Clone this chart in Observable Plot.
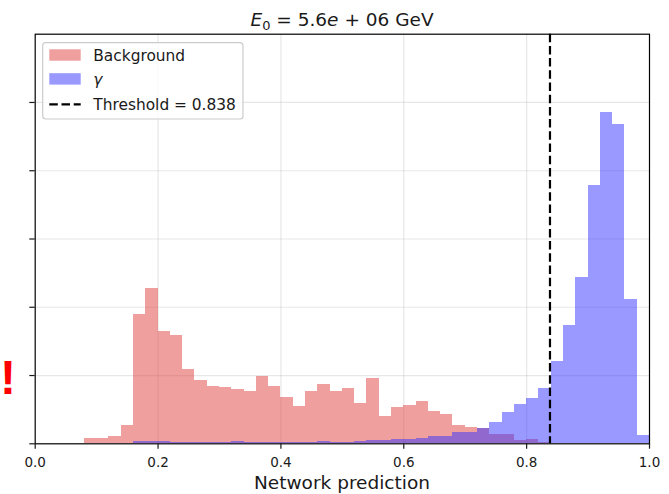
<!DOCTYPE html>
<html><head><meta charset="utf-8">
<script src="https://cdn.jsdelivr.net/npm/d3@7"></script>
<script src="https://cdn.jsdelivr.net/npm/@observablehq/plot@0.6"></script>
<style>body{margin:0;background:#fff} svg{font-family:"DejaVu Sans",sans-serif}</style>
</head><body><div id="chart"></div>
<script>
// ---- data ----
const binStart = 0.0;
const binWidth = 0.02;
const background = [
  0, 0, 0, 0, 0.08, 0.08, 0.10, 0.273, 1.888, 2.278,
  1.639, 1.585, 1.083, 0.932, 0.834, 0.820, 0.790, 0.766, 0.980, 0.834,
  0.683, 0.541, 0.766, 0.863, 0.766, 0.815, 0.585, 0.961, 0.395, 0.537,
  0.566, 0.615, 0.468, 0.434, 0.273, 0.244, 0.22, 0.14, 0.13, 0.045,
  0.07, 0.025, 0.005, 0, 0, 0, 0, 0, 0, 0
];
const gamma = [
  0, 0, 0, 0, 0, 0, 0, 0.01, 0.03, 0.03,
  0.03, 0.015, 0.012, 0.012, 0.012, 0.015, 0.03, 0.015, 0.012, 0.012,
  0.012, 0.015, 0.015, 0.03, 0.015, 0.015, 0.03, 0.045, 0.05, 0.063,
  0.063, 0.083, 0.10, 0.10, 0.16, 0.16, 0.22, 0.307, 0.454, 0.571,
  0.668, 0.805, 1.21, 1.73, 2.44, 3.79, 4.86, 4.67, 2.12, 0.12
];
const threshold = 0.838;
const xTicks = [0, 0.2, 0.4, 0.6, 0.8, 1.0];
const yTicks = [0, 1, 2, 3, 4, 5];
const seriesNames = ["Background", "γ"];
const thresholdLabel = "Threshold = 0.838";
const xLabel = "Network prediction";

const rows = background.map((v, i) => ({
  x1: binStart + i * binWidth,
  x2: binStart + (i + 1) * binWidth,
  bg: v,
  g: gamma[i]
}));

const RED = "#e0403c", BLUE = "#3333ff";

const svg = Plot.plot({
  width: 669, height: 494,
  marginLeft: 34.7, marginRight: 20, marginTop: 33.7, marginBottom: 50.7,
  x: {domain: [0, 1]},
  y: {domain: [0, 6]},
  style: {fontFamily: "DejaVu Sans", fontSize: "13.5px", color: "#1a1a1a", background: "white"},
  marks: [
    Plot.gridX(xTicks.slice(1, -1), {stroke: "#b0b0b0", strokeOpacity: 0.3, strokeWidth: 1.2}),
    Plot.gridY(yTicks.slice(1), {stroke: "#b0b0b0", strokeOpacity: 0.3, strokeWidth: 1.2}),
    Plot.rectY(rows, {x1: "x1", x2: "x2", y: "bg", fill: RED, fillOpacity: 0.5, shapeRendering: "crispEdges"}),
    Plot.rectY(rows, {x1: "x1", x2: "x2", y: "g", fill: BLUE, fillOpacity: 0.5, shapeRendering: "crispEdges"}),
    Plot.ruleX([threshold], {stroke: "black", strokeWidth: 2.2, strokeDasharray: "8.5,3.7"}),
    Plot.frame({stroke: "black", strokeWidth: 1.2}),
    Plot.axisX({ticks: xTicks, tickFormat: d3.format(".1f"), tickSize: 5.4, tickPadding: 8, strokeWidth: 1.2, label: null}),
    Plot.axisY({ticks: yTicks, tickFormat: () => "", tickSize: 5.4, strokeWidth: 1.2, label: null})
  ]
});

const s = d3.select(svg);
// title
const t = s.append("text").attr("x", 342).attr("y", 26).attr("text-anchor", "middle")
  .attr("font-size", 18.5).attr("fill", "#1a1a1a");
t.append("tspan").attr("font-style", "italic").text("E");
t.append("tspan").attr("font-size", 13).attr("dy", 4).text("0");
t.append("tspan").attr("dy", -4).text(" = 5.6");
t.append("tspan").attr("font-style", "italic").text("e");
t.append("tspan").text(" + 06 GeV");

// x label
s.append("text").attr("x", 342).attr("y", 489).attr("text-anchor", "middle")
  .attr("font-size", 18.5).attr("fill", "#1a1a1a").text(xLabel);

// legend
const lg = s.append("g");
lg.append("rect").attr("x", 42.7).attr("y", 42.7).attr("width", 200.3).attr("height", 76.3)
  .attr("rx", 3).attr("fill", "white").attr("fill-opacity", 0.8)
  .attr("stroke", "#cccccc").attr("stroke-width", 1.2);
lg.append("rect").attr("x", 49.3).attr("y", 49.3).attr("width", 31.4).attr("height", 11.4)
  .attr("fill", RED).attr("fill-opacity", 0.5);
lg.append("rect").attr("x", 49.3).attr("y", 73.2).attr("width", 31.4).attr("height", 11.4)
  .attr("fill", BLUE).attr("fill-opacity", 0.5);
lg.append("line").attr("x1", 49.3).attr("x2", 80.7).attr("y1", 104.3).attr("y2", 104.3)
  .attr("stroke", "black").attr("stroke-width", 2.2).attr("stroke-dasharray", "8.5,3.7");
const lt = [[seriesNames[0], 55, false], [seriesNames[1], 79, true], [thresholdLabel, 104.3, false]];
lt.forEach(([txt, cy, it]) => {
  lg.append("text").attr("x", 93.3).attr("y", cy).attr("dy", "0.36em")
    .attr("text-anchor", "start")
    .attr("font-size", 15.4).attr("fill", "#1a1a1a")
    .attr("font-style", it ? "italic" : "normal").text(txt);
});

// red mark at left
s.append("text").attr("x", 0).attr("y", 394).attr("text-anchor", "start")
  .attr("font-family", "Liberation Sans").attr("font-size", 48)
  .attr("font-weight", "bold").attr("fill", "red").text("!");

document.getElementById("chart").appendChild(svg);
</script>
</body></html>
